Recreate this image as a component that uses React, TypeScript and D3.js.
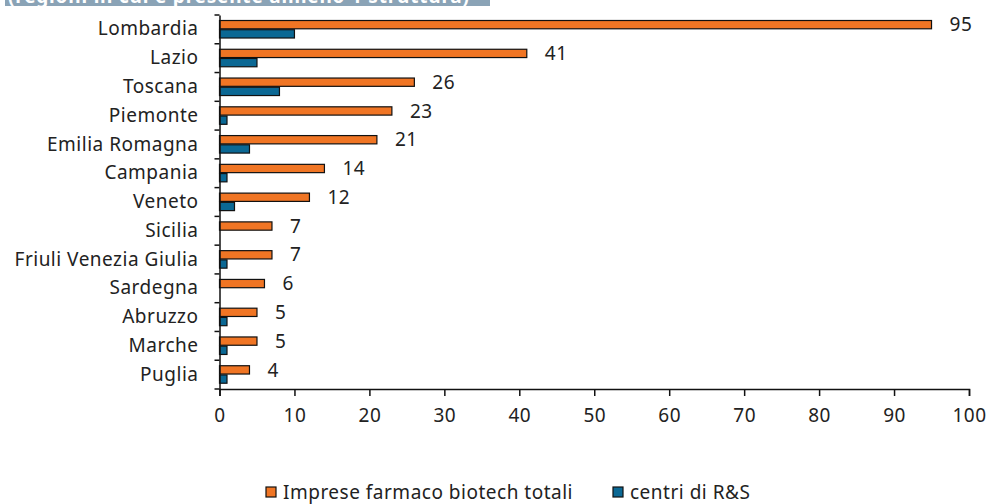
import React, { useEffect, useRef } from 'react';
import * as d3 from 'd3';

const regions = [
  'Lombardia', 'Lazio', 'Toscana', 'Piemonte', 'Emilia Romagna', 'Campania', 'Veneto',
  'Sicilia', 'Friuli Venezia Giulia', 'Sardegna', 'Abruzzo', 'Marche', 'Puglia',
];
const impreseTotali = [95, 41, 26, 23, 21, 14, 12, 7, 7, 6, 5, 5, 4];
const centriRS = [10, 5, 8, 1, 4, 1, 2, 0, 1, 0, 1, 1, 1];
const xTicks = [0, 10, 20, 30, 40, 50, 60, 70, 80, 90, 100];
const seriesNames = ['Imprese farmaco biotech totali', 'centri di R&S'];
const colors = ['#f07524', '#0b6894'];

const W = 992;
const H = 504;
const FONT = '"Noto Sans", "Open Sans", sans-serif';

export default function App() {
  const svgRef = useRef<SVGSVGElement>(null);

  useEffect(() => {
    const svg = d3.select(svgRef.current);
    svg.selectAll('*').remove();

    const textStyle = (sel: any) => sel
      .attr('fill', '#222')
      .style('font', `19px ${FONT}`)
      .style('letter-spacing', '0.5px');

    // header strip (title cut off at the top)
    svg.append('rect')
      .attr('x', 5).attr('y', 0).attr('width', 485).attr('height', 6)
      .attr('fill', '#8aa3b6');
    svg.append('text')
      .attr('x', 8).attr('y', 3)
      .attr('fill', '#fff')
      .style('font', `bold 19px ${FONT}`)
      .style('letter-spacing', '0.8px')
      .text('(regioni in cui è presente almeno 1 struttura)');

    const x = d3.scaleLinear().domain([0, 100]).range([219.5, 969]);
    const y = d3.scaleBand().domain(regions).range([15, 389]);
    const sub = d3.scaleBand().domain(['a', 'b']).range([5.5, 23]).paddingInner(0.1);

    const rows = svg.append('g').selectAll('g')
      .data(regions)
      .enter()
      .append('g')
      .attr('transform', d => `translate(0,${y(d)})`);

    rows.append('rect')
      .attr('x', x(0))
      .attr('y', sub('a'))
      .attr('width', (d, i) => x(impreseTotali[i]) - x(0))
      .attr('height', sub.bandwidth())
      .attr('fill', colors[0])
      .attr('stroke', '#111')
      .attr('stroke-width', 1.2);

    rows.filter((d, i) => centriRS[i] > 0)
      .append('rect')
      .attr('x', x(0))
      .attr('y', sub('b'))
      .attr('width', d => x(centriRS[regions.indexOf(d)]) - x(0))
      .attr('height', sub.bandwidth())
      .attr('fill', colors[1])
      .attr('stroke', '#111')
      .attr('stroke-width', 1.2);

    rows.append('text')
      .attr('x', (d, i) => x(impreseTotali[i]) + 18)
      .attr('y', sub('a') + sub.bandwidth() / 2)
      .attr('dy', '0.35em')
      .call(textStyle)
      .text((d, i) => impreseTotali[i]);

    // y axis
    const yAxis = svg.append('g')
      .attr('transform', `translate(${x(0)},0)`)
      .call(d3.axisLeft(y).tickSize(0).tickPadding(21));
    yAxis.select('.domain').attr('stroke', '#111').attr('stroke-width', 1.5);
    yAxis.selectAll('text').call(textStyle);
    yAxis.selectAll('.boundary')
      .data(d3.range(regions.length + 1))
      .enter()
      .append('line')
      .attr('class', 'boundary')
      .attr('x1', -5).attr('x2', 0)
      .attr('y1', i => 15 + i * y.step())
      .attr('y2', i => 15 + i * y.step())
      .attr('stroke', '#111')
      .attr('stroke-width', 1.5);

    // x axis
    const xAxis = svg.append('g')
      .attr('transform', `translate(0,389)`)
      .call(d3.axisBottom(x).tickValues(xTicks).tickSize(7).tickSizeOuter(7).tickPadding(13));
    xAxis.selectAll('line, .domain').attr('stroke', '#111').attr('stroke-width', 1.5);
    xAxis.selectAll('text').call(textStyle);

    // legend
    const legendX = [266, 613];
    const legend = svg.append('g').selectAll('g')
      .data(seriesNames)
      .enter()
      .append('g')
      .attr('transform', (d, i) => `translate(${legendX[i]},487)`);
    legend.append('rect')
      .attr('width', 10).attr('height', 10)
      .attr('fill', (d, i) => colors[i])
      .attr('stroke', '#111')
      .attr('stroke-width', 1.2);
    legend.append('text')
      .attr('x', 17).attr('y', 5)
      .attr('dy', '0.36em')
      .call(textStyle)
      .text(d => d);
  }, []);

  return (
    <svg
      ref={svgRef}
      width={W}
      height={H}
      style={{ position: 'absolute', left: 0, top: 0, background: 'white' }}
    />
  );
}
